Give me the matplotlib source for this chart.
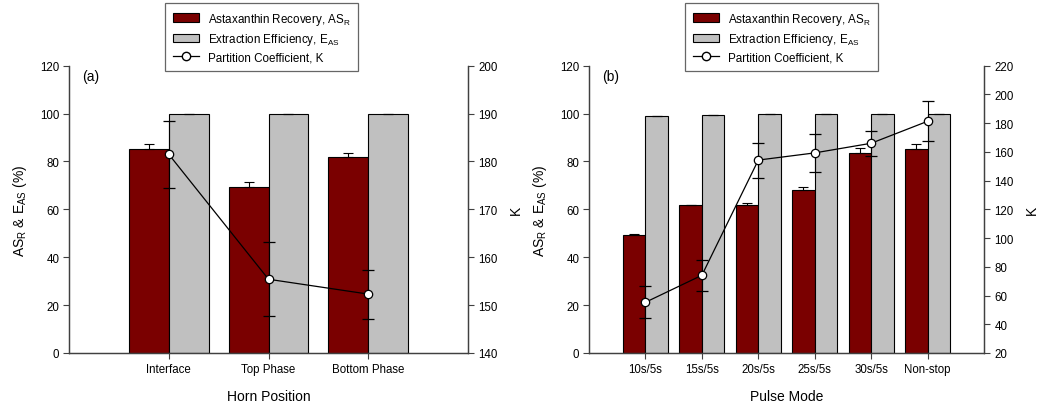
import matplotlib
matplotlib.use("Agg")
import matplotlib.pyplot as plt
import numpy as np
from matplotlib.patches import Patch
from matplotlib.lines import Line2D

plt.rcParams['font.family'] = ['Liberation Sans', 'DejaVu Sans']
plt.rcParams['mathtext.fontset'] = 'custom'
plt.rcParams['mathtext.rm'] = 'Liberation Sans'
plt.rcParams['mathtext.it'] = 'Liberation Sans'
plt.rcParams['mathtext.default'] = 'regular'

# Panel (a)
cats_a = ["Interface", "Top Phase", "Bottom Phase"]
asr_a = [85.3, 69.4, 82.0]
asr_err_a = [2.2, 2.1, 1.5]
eas_a = [99.7, 99.8, 99.7]
eas_err_a = [0.1, 0.1, 0.1]
k_a = [181.5, 155.4, 152.3]
k_err_a = [7.0, 7.7, 5.1]

# Panel (b)
cats_b = ["10s/5s", "15s/5s", "20s/5s", "25s/5s", "30s/5s", "Non-stop"]
asr_b = [49.3, 61.8, 61.7, 68.2, 83.6, 85.3]
asr_err_b = [0.3, 0.2, 0.8, 1.3, 2.2, 2.2]
eas_b = [99.0, 99.4, 99.7, 99.7, 99.7, 99.7]
eas_err_b = [0.1, 0.1, 0.1, 0.1, 0.1, 0.1]
k_b = [55.3, 74.1, 154.3, 159.3, 166.0, 181.3]
k_err_b = [11.0, 10.8, 12.2, 13.0, 8.6, 13.8]

RED = '#7a0000'
GRAY = '#c0c0c0'
SPINE = '#404040'

fig = plt.figure(figsize=(10.47, 4.06), dpi=100)


def panel(rect, cats, asr, asr_err, eas, eas_err, k, k_err, kylim, kticks,
          letter, xlabel):
    ax = fig.add_axes(rect)
    x = np.arange(len(cats))
    w = 0.4
    ax.bar(x - w / 2, asr, w, color=RED, edgecolor='black', linewidth=0.8,
           yerr=[np.zeros(len(asr)), asr_err], capsize=3.5,
           error_kw=dict(ecolor='black', elinewidth=0.8, capthick=0.8), zorder=2)
    ax.bar(x + w / 2, eas, w, color=GRAY, edgecolor='black', linewidth=0.8,
           yerr=[np.zeros(len(eas)), eas_err], capsize=3.5,
           error_kw=dict(ecolor='black', elinewidth=0.8, capthick=0.8), zorder=2)
    ax.set_xlim(-1, len(cats))
    ax.set_ylim(0, 120)
    ax.set_yticks(np.arange(0, 121, 20))
    ax.set_xticks(x)
    ax.set_xticklabels(cats)
    ax.spines['top'].set_visible(False)
    for s in ['left', 'bottom', 'right']:
        ax.spines[s].set_color(SPINE)
        ax.spines[s].set_linewidth(0.9)
    ax.tick_params(axis='both', labelsize=8.3, length=4, width=0.8,
                   color=SPINE, pad=3)
    ax.set_ylabel('AS$_R$ & E$_{AS}$ (%)', fontsize=10, labelpad=8)
    ax.set_xlabel(xlabel, fontsize=10, labelpad=10)
    ax.text(0.033, 0.99, letter,
            transform=ax.transAxes, fontsize=10, va='top', ha='left')
    ax2 = ax.twinx()
    ax2.errorbar(x, k, yerr=k_err, fmt='-o', color='black', linewidth=0.9,
                 markersize=6, markerfacecolor='white', markeredgecolor='black',
                 markeredgewidth=0.9, capsize=4, elinewidth=0.8, capthick=0.8)
    ax2.set_ylim(*kylim)
    ax2.set_yticks(kticks)
    ax2.spines['top'].set_visible(False)
    for s in ['left', 'bottom', 'right']:
        ax2.spines[s].set_color(SPINE)
        ax2.spines[s].set_linewidth(0.9)
    ax2.tick_params(axis='y', labelsize=8.3, length=4, width=0.8, color=SPINE)
    ax2.set_ylabel('K', fontsize=10, labelpad=8)
    return ax


panel([0.0659, 0.1281, 0.3811, 0.7076], cats_a, asr_a, asr_err_a, eas_a,
      eas_err_a, k_a, k_err_a, (140, 200), np.arange(140, 201, 10), '(a)',
      'Horn Position')
panel([0.5626, 0.1281, 0.3772, 0.7076], cats_b, asr_b, asr_err_b, eas_b,
      eas_err_b, k_b, k_err_b, (20, 220), np.arange(20, 221, 20), '(b)',
      'Pulse Mode')

handles = [
    Patch(facecolor=RED, edgecolor='black', linewidth=0.8),
    Patch(facecolor=GRAY, edgecolor='black', linewidth=0.8),
    Line2D([0], [0], color='black', linewidth=0.9, marker='o', markersize=6,
           markerfacecolor='white', markeredgecolor='black'),
]
labels = ['Astaxanthin Recovery, AS$_R$', 'Extraction Efficiency, E$_{AS}$',
          'Partition Coefficient, K']
for xpos in [0.1576, 0.6543]:
    leg = fig.legend(handles, labels, loc='upper left',
                     bbox_to_anchor=(xpos, 0.99), fontsize=8.4, frameon=True,
                     fancybox=False, edgecolor='#404040', borderaxespad=0,
                     handlelength=2.3, labelspacing=0.38, borderpad=0.65,
                     handletextpad=0.7)
    leg.get_frame().set_linewidth(0.9)

fig.savefig('out.png', dpi=100)
